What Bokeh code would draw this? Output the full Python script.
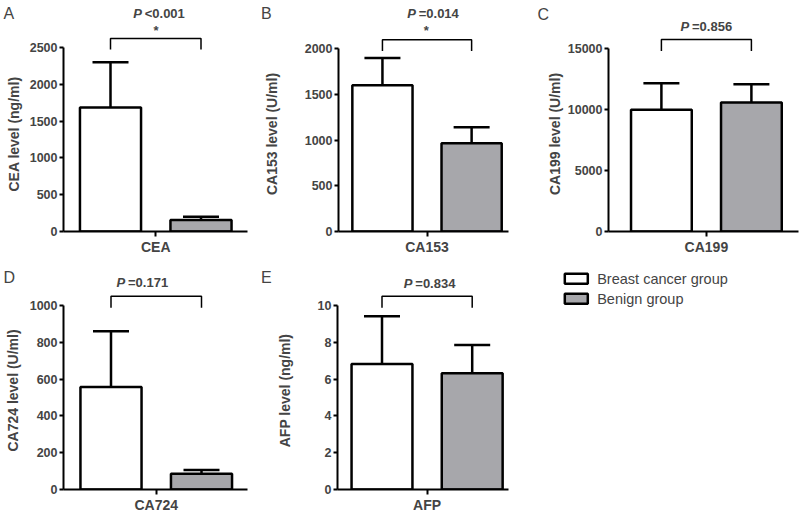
from bokeh.plotting import figure
from bokeh.models import (Range1d, SingleIntervalTicker, FixedTicker, Whisker, TeeHead,
                          Label, ColumnDataSource)
from bokeh.layouts import row, column
from bokeh.embed import file_html
from bokeh.resources import INLINE

# ---------------- data ----------------
groups = ["Breast cancer group", "Benign group"]
markers = ["CEA", "CA153", "CA199", "CA724", "AFP"]
units = ["ng/ml", "U/ml", "U/ml", "U/ml", "ng/ml"]
panel_letters = ["A", "B", "C", "D", "E"]
cancer_mean = [1685, 1600, 9990, 557, 6.81]
cancer_sd = [615, 298, 2170, 303, 2.60]
benign_mean = [157, 967, 10590, 85, 6.32]
benign_sd = [42, 174, 1490, 21, 1.53]
p_text = ["<0.001", "=0.014", "=0.856", "=0.171", "=0.834"]
star_text = ["*", "*", "", "", ""]
axis_max = [2500, 2000, 15000, 1000, 10]
tick_step = [500, 500, 5000, 200, 2]

FONT = "Liberation Sans"
GREY = "#a7a7ab"

# ---------------- layout (page pixels) ----------------
TOP_H = 36          # header strip above top row
ROW1_H = 221        # top row of panels
BOT_HDR_H = 34      # header strip above bottom row
ROW2_H = 224        # bottom row of panels

LAYOUT = [
    dict(x0=0, w=260, y0=TOP_H, h=ROW1_H, L=63, R=247, c0=110.0, d=90.5, fb=232, fmax=47,
         br=(38, 49), so=5, letter=(3, 12.5), P=(132.7, 12.5), star=(155.5, 29.5)),
    dict(x0=260, w=260, y0=TOP_H, h=ROW1_H, L=337, R=508, c0=381.2, d=89.7, fb=232.3, fmax=48.3,
         br=(39.3, 50.7), so=22, letter=(260.5, 12.5), P=(406.7, 13), star=(425.7, 29.5)),
    dict(x0=520, w=280, y0=TOP_H, h=ROW1_H, L=608, R=798, c0=660.9, d=90.0, fb=233.3, fmax=48.3,
         br=(39, 50.7), so=2, letter=(537, 13.5), P=(680, 25.5), star=None),
    dict(x0=0, w=260, y0=291, h=ROW2_H, L=63, R=247, c0=110.5, d=90.5, fb=490.7, fmax=305,
         br=(295.7, 307.3), so=6, letter=(3, 277), P=(116, 281.7), star=None),
    dict(x0=260, w=260, y0=291, h=ROW2_H, L=337, R=508, c0=381.5, d=90.2, fb=490.7, fmax=305,
         br=(295.7, 307.3), so=22, letter=(260.5, 277), P=(403.3, 282.5), star=None),
]
LEGEND_BOX = dict(left=564.3, right=587.3, tops=[273.3, 293.3], h=10, text_x=596.7)


def make_panel(i):
    g = LAYOUT[i]
    ppu = (g["fb"] - g["fmax"]) / axis_max[i]

    def xd(px):
        return (px - g["c0"]) / g["d"]

    def yd(py):
        return (g["fb"] - py) / ppu

    p = figure(width=g["w"], height=g["h"],
               x_range=Range1d(xd(g["L"]), xd(g["R"])),
               y_range=Range1d(0, yd(g["y0"])),
               toolbar_location=None, output_backend="svg", title=None,
               min_border_left=round(g["L"] - g["x0"]),
               min_border_right=round(g["x0"] + g["w"] - g["R"]),
               min_border_top=0,
               min_border_bottom=round(g["y0"] + g["h"] - g["fb"]))
    p.outline_line_color = None
    p.xgrid.visible = False
    p.ygrid.visible = False

    src = ColumnDataSource(dict(
        x=[0, 1],
        top=[cancer_mean[i], benign_mean[i]],
        upper=[cancer_mean[i] + cancer_sd[i], benign_mean[i] + benign_sd[i]],
        color=["white", GREY],
    ))
    p.vbar(x="x", top="top", width=0.675, fill_color="color", line_color="black",
           line_width=2.5, source=src)
    p.add_layout(Whisker(base="x", lower="top", upper="upper", source=src,
                         dimension="height", lower_head=None,
                         upper_head=TeeHead(size=36, line_width=2.5, line_color="black"),
                         line_width=2.5, line_color="black", level="overlay"))

    ya = p.yaxis[0]
    ya.bounds = (0, axis_max[i])
    ya.ticker = SingleIntervalTicker(interval=tick_step[i], num_minor_ticks=0)
    ya.axis_label = f"{markers[i]} level ({units[i]})"
    ya.axis_label_text_font = FONT
    ya.axis_label_text_font_style = "bold"
    ya.axis_label_text_font_size = "14px"
    ya.axis_label_standoff = g["so"]
    ya.major_label_text_font = FONT
    ya.major_label_text_font_style = "bold"
    ya.major_label_text_font_size = "12.5px"
    ya.major_label_standoff = 2
    ya.major_tick_in = 0
    ya.major_tick_out = 4
    ya.major_tick_line_width = 2
    ya.minor_tick_line_color = None
    ya.axis_line_width = 2

    xa = p.xaxis[0]
    xa.ticker = FixedTicker(ticks=[0.5])
    xa.major_label_overrides = {0.5: markers[i]}
    xa.major_label_text_font = FONT
    xa.major_label_text_font_style = "bold"
    xa.major_label_text_font_size = "14px"
    xa.major_label_standoff = 2
    xa.major_tick_in = 0
    xa.major_tick_out = 5
    xa.major_tick_line_width = 2
    xa.minor_tick_line_color = None
    xa.axis_line_width = 2

    btop, bleg = g["br"]
    p.line(x=[0, 0, 1, 1], y=[yd(bleg), yd(btop), yd(btop), yd(bleg)],
           line_color="black", line_width=1.5)
    return p


def text_strip(width, height, x0, y0):
    """A bare strip (page-pixel coordinates) that carries panel letters and P values."""
    s = figure(width=width, height=height,
               x_range=Range1d(x0, x0 + width), y_range=Range1d(y0 + height, y0),
               x_axis_type=None, y_axis_type=None, toolbar_location=None,
               output_backend="svg", title=None, min_border=0)
    s.outline_line_color = None
    return s


def add_panel_texts(s, i):
    g = LAYOUT[i]
    lx, ly = g["letter"]
    s.add_layout(Label(x=lx, y=ly, text=panel_letters[i], text_font=FONT,
                       text_font_size="16px", text_align="left", text_baseline="middle"))
    px, py = g["P"]
    s.add_layout(Label(x=px, y=py, text="P", text_font=FONT,
                       text_font_style="bold italic", text_font_size="13px",
                       text_align="left", text_baseline="middle"))
    s.add_layout(Label(x=px + 11.5, y=py, text=p_text[i], text_font=FONT,
                       text_font_style="bold", text_font_size="13px",
                       text_align="left", text_baseline="middle"))
    if star_text[i] and g["star"]:
        sx, sy = g["star"]
        s.add_layout(Label(x=sx, y=sy, text=star_text[i], text_font=FONT,
                           text_font_style="bold", text_font_size="13px",
                           text_align="center", text_baseline="middle"))


panels = [make_panel(i) for i in range(5)]

top_strip = text_strip(800, TOP_H, 0, 0)
for i in range(3):
    add_panel_texts(top_strip, i)

bot_strip = text_strip(520, BOT_HDR_H, 0, TOP_H + ROW1_H)
for i in range(3, 5):
    add_panel_texts(bot_strip, i)

# legend panel (page-pixel coordinates)
pl = text_strip(280, BOT_HDR_H + ROW2_H, 520, TOP_H + ROW1_H)
lb = LEGEND_BOX
pl.quad(left=[lb["left"]] * 2, right=[lb["right"]] * 2,
        top=lb["tops"], bottom=[t + lb["h"] for t in lb["tops"]],
        fill_color=["white", GREY], line_color="black", line_width=2.5)
for k, name in enumerate(groups):
    pl.add_layout(Label(x=lb["text_x"], y=lb["tops"][k] + lb["h"] / 2 + 0.5, text=name,
                        text_font=FONT, text_font_size="14.5px",
                        text_align="left", text_baseline="middle"))

layout = column(
    top_strip,
    row(panels[0], panels[1], panels[2]),
    row(column(bot_strip, row(panels[3], panels[4])), pl),
)

open("out.html", "w").write(file_html(layout, INLINE))
